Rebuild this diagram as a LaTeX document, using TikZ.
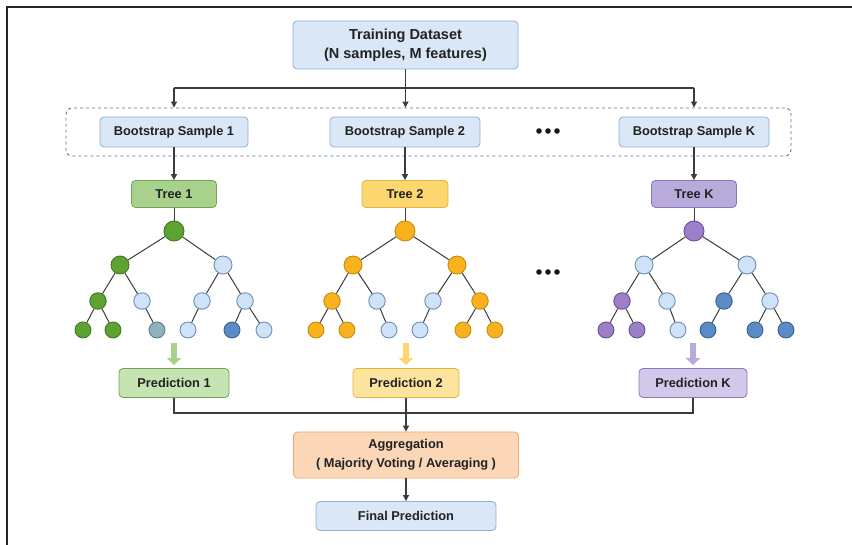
\documentclass[tikz,border=0pt]{standalone}
\usepackage{fontspec}
\setmainfont{Liberation Sans}
\usetikzlibrary{arrows.meta}

% box colours
\definecolor{txt}{HTML}{222222}
\definecolor{bluef}{HTML}{DAE7F6}
\definecolor{blueb}{HTML}{8EAFD6}
\definecolor{greenf}{HTML}{A9D18E}
\definecolor{greenb}{HTML}{6FA552}
\definecolor{greenlf}{HTML}{C6E3B2}
\definecolor{yellf}{HTML}{FCD66E}
\definecolor{yellb}{HTML}{E2B43A}
\definecolor{yelllf}{HTML}{FDE49E}
\definecolor{purpf}{HTML}{B8AADA}
\definecolor{purpb}{HTML}{8A78BE}
\definecolor{purplf}{HTML}{D2C8EA}
\definecolor{orf}{HTML}{FBD7B8}
\definecolor{orb}{HTML}{EDA86C}
\definecolor{linec}{HTML}{3C3C3C}
\definecolor{dashc}{HTML}{5E7491}
% tree vertex colours
\definecolor{vg}{HTML}{5EA232}
\definecolor{vgb}{HTML}{3E7A22}
\definecolor{vo}{HTML}{F7B21E}
\definecolor{vob}{HTML}{C98B0A}
\definecolor{vp}{HTML}{9C7FC6}
\definecolor{vpb}{HTML}{6A5096}
\definecolor{vl}{HTML}{CFE2F7}
\definecolor{vlb}{HTML}{6E8FB8}
\definecolor{vm}{HTML}{5B8BC6}
\definecolor{vmb}{HTML}{3A6294}
\definecolor{vt}{HTML}{8FB2BE}
\definecolor{vtb}{HTML}{5C7E8C}

\tikzset{
  box/.style={draw=blueb, fill=bluef, rounded corners=4pt, line width=0.8pt,
    inner sep=0pt, text=txt, align=center,
    font=\bfseries\fontsize{12.8}{15}\selectfont},
  conn/.style={draw=linec, line width=1.1pt, -{Triangle[length=6pt,width=6pt]}},
  plain/.style={draw=linec, line width=1.1pt},
  edge/.style={draw=linec, line width=1pt},
  blk/.style={line width=6pt, -{Triangle[length=7pt,width=14pt]}, shorten >=3pt},
  v/.style={circle, inner sep=0pt, line width=0.9pt},
  vR/.style={v, minimum size=20pt},
  vA/.style={v, minimum size=18pt},
  vB/.style={v, minimum size=16.5pt},
  vC/.style={v, minimum size=16pt},
  G/.style={fill=vg, draw=vgb},
  O/.style={fill=vo, draw=vob},
  P/.style={fill=vp, draw=vpb},
  L/.style={fill=vl, draw=vlb},
  M/.style={fill=vm, draw=vmb},
  T/.style={fill=vt, draw=vtb},
}

\begin{document}
\begin{tikzpicture}[x=1pt, y=-1pt]
\useasboundingbox (0,0) rectangle (852,545);
\fill[white] (0,0) rectangle (852,545);

% frame edges
\draw[line width=2.4pt, black!85] (7,545) -- (7,7) -- (852,7);

% top of the pipeline
\node[box, minimum width=225pt, minimum height=48pt,
      font=\bfseries\fontsize{14.5}{19}\selectfont] (train) at (405.5,45)
      {Training Dataset\\(N samples, M features)};

\node[draw=dashc, dashed, line width=0.9pt, rounded corners=6pt,
      minimum width=725pt, minimum height=48pt, inner sep=0pt] (dbox) at (428.5,132) {};

\node[box, minimum width=148pt, minimum height=30pt] (bs1) at (174,132) {Bootstrap Sample 1};
\node[box, minimum width=150pt, minimum height=30pt] (bs2) at (405,132) {Bootstrap Sample 2};
\node[box, minimum width=150pt, minimum height=30pt] (bsK) at (694,132) {Bootstrap Sample K};

\foreach \xx in {539,548,557} \fill[black!90] (\xx,131) circle (2.8pt);

\coordinate (hbar) at (0,88);
\draw[conn] (train.south) -- (train.south |- dbox.north);
\draw[plain] (bs1.north |- hbar) -- (bsK.north |- hbar);
\draw[conn] (bs1.north |- hbar) -- (bs1.north |- dbox.north);
\draw[conn] (bsK.north |- hbar) -- (bsK.north |- dbox.north);

% tree labels
\node[box, draw=greenb, fill=greenf, minimum width=85pt, minimum height=27pt] (tr1) at (174,194) {Tree 1};
\node[box, draw=yellb, fill=yellf, minimum width=86pt, minimum height=27pt] (tr2) at (405,194) {Tree 2};
\node[box, draw=purpb, fill=purpf, minimum width=85pt, minimum height=27pt] (trK) at (694,194) {Tree K};

\draw[conn] (bs1) -- (tr1);
\draw[conn] (bs2) -- (tr2);
\draw[conn] (bsK) -- (trK);

% tree 1
\node[vR,G] (ar) at (174,231) {};
\node[vA,G] (aa) at (120,265) {};
\node[vA,L] (ab) at (223,265) {};
\node[vB,G] (aaa) at (98,301) {};
\node[vB,L] (aab) at (142,301) {};
\node[vB,L] (aba) at (202,301) {};
\node[vB,L] (abb) at (245,301) {};
\node[vC,G] (a1) at (83,330) {};
\node[vC,G] (a2) at (113,330) {};
\node[vC,T] (a3) at (157,330) {};
\node[vC,L] (a4) at (188,330) {};
\node[vC,M] (a5) at (232,330) {};
\node[vC,L] (a6) at (264,330) {};

% tree 2
\node[vR,O] (br) at (405,231) {};
\node[vA,O] (ba) at (353,265) {};
\node[vA,O] (bb) at (457,265) {};
\node[vB,O] (baa) at (332,301) {};
\node[vB,L] (bab) at (377,301) {};
\node[vB,L] (bba) at (433,301) {};
\node[vB,O] (bbb) at (480,301) {};
\node[vC,O] (b1) at (316,330) {};
\node[vC,O] (b2) at (347,330) {};
\node[vC,L] (b3) at (389,330) {};
\node[vC,L] (b4) at (420,330) {};
\node[vC,O] (b5) at (463,330) {};
\node[vC,O] (b6) at (495,330) {};

% tree K
\node[vR,P] (cr) at (694,231) {};
\node[vA,L] (ca) at (644,265) {};
\node[vA,L] (cb) at (747,265) {};
\node[vB,P] (caa) at (622,301) {};
\node[vB,L] (cab) at (667,301) {};
\node[vB,M] (cba) at (724,301) {};
\node[vB,L] (cbb) at (770,301) {};
\node[vC,P] (c1) at (606,330) {};
\node[vC,P] (c2) at (637,330) {};
\node[vC,L] (c3) at (678,330) {};
\node[vC,M] (c4) at (708,330) {};
\node[vC,M] (c5) at (755,330) {};
\node[vC,M] (c6) at (786,330) {};

% tree edges
\foreach \p in {a,b,c} {
  \draw[edge] (\p r) -- (\p a);
  \draw[edge] (\p r) -- (\p b);
  \draw[edge] (\p a) -- (\p aa);
  \draw[edge] (\p a) -- (\p ab);
  \draw[edge] (\p b) -- (\p ba);
  \draw[edge] (\p b) -- (\p bb);
  \draw[edge] (\p aa) -- (\p 1);
  \draw[edge] (\p aa) -- (\p 2);
  \draw[edge] (\p ab) -- (\p 3);
  \draw[edge] (\p ba) -- (\p 4);
  \draw[edge] (\p bb) -- (\p 5);
  \draw[edge] (\p bb) -- (\p 6);
}
\draw[edge] (tr1) -- (ar);
\draw[edge] (tr2) -- (br);
\draw[edge] (trK) -- (cr);

\foreach \xx in {539,548,557} \fill[black!90] (\xx,272) circle (2.8pt);

% predictions
\node[box, draw=greenb, fill=greenlf, minimum width=110pt, minimum height=29pt] (p1) at (174,383) {Prediction 1};
\node[box, draw=yellb, fill=yelllf, minimum width=106pt, minimum height=29pt] (p2) at (406,383) {Prediction 2};
\node[box, draw=purpb, fill=purplf, minimum width=108pt, minimum height=29pt] (pK) at (693,383) {Prediction K};

\coordinate (g1) at (174,343);
\coordinate (g2) at (406,343);
\coordinate (gK) at (693,343);
\draw[blk, color=greenf] (g1) -- (p1.north);
\draw[blk, color=yellf] (g2) -- (p2.north);
\draw[blk, color=purpf] (gK) -- (pK.north);

% aggregation
\node[box, draw=orb, fill=orf, minimum width=225pt, minimum height=46pt,
      font=\bfseries\fontsize{12.8}{19}\selectfont] (agg) at (406,455)
      {Aggregation\\( Majority Voting / Averaging )};
\node[box, minimum width=180pt, minimum height=29pt] (fin) at (406,516) {Final Prediction};

\coordinate (lowbar) at (0,413);
\draw[plain] (p1.south) -- (p1.south |- lowbar) -- (pK.south |- lowbar) -- (pK.south);
\draw[conn] (p2.south) -- (agg.north);
\draw[conn] (agg.south) -- (fin.north);
\end{tikzpicture}
\end{document}
